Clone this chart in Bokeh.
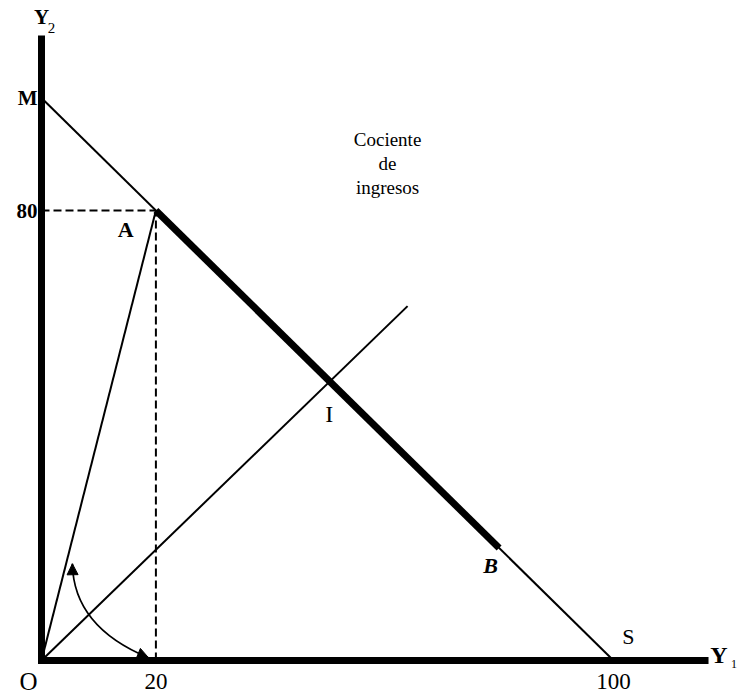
from bokeh.plotting import figure
from bokeh.models import Arrow, NormalHead, Range1d
from bokeh.core.properties import value
from bokeh.embed import file_html
from bokeh.resources import INLINE

# ---- data ----
x_max = 116.0            # extent of the Y1 axis
y_max = 110.5            # extent of the Y2 axis
budget_x = [0, 100]      # line M -> S
budget_y = [100, 0]
segment_x = [20, 80]     # thick segment A -> B
segment_y = [80, 20]
ray_x = [0, 20]          # ray O -> A
ray_y = [0, 80]
equal_x = [0, 64]        # 45-degree line through I
equal_y = [0, 63]
guide_h_x = [0, 20]      # dashed guide at Y2 = 80
guide_h_y = [80, 80]
guide_v_x = [20, 20]     # dashed guide at Y1 = 20
guide_v_y = [0, 80]
arc_x0, arc_y0 = 5.4, 17.2    # curved arrow start (on O-A)
arc_cx, arc_cy = 5.6, 6.0     # control point
arc_x1, arc_y1 = 18.7, 0.5    # curved arrow end (near Y1 = 20)
x_ticks = [20, 100]
x_tick_labels = ["20", "100"]
y_ticks = [80, 100]
y_tick_labels = ["80", "M"]
point_names = ["A", "B", "I", "S"]
point_x = [14.7, 78.5, 50.3, 102.6]
point_y = [76.6, 16.9, 43.9, 4.2]
note_text = "Cociente\nde\ningresos"
note_x, note_y = 60.5, 88.4

SERIF = "Liberation Serif"

# scale: 5.72 px per unit on Y1, 5.625 px per unit on Y2; origin at (41, 660)
p = figure(width=738, height=696, output_backend="svg", toolbar_location=None,
           x_range=Range1d(-41 / 5.72, (738 - 41) / 5.72),
           y_range=Range1d(-36 / 5.625, 660 / 5.625),
           x_axis_location=None, y_axis_location=None,
           min_border=0, background_fill_color="white",
           border_fill_color="white", outline_line_color=None)
p.grid.visible = False

# axes
p.line([0, x_max], [0, 0], line_color="black", line_width=7, line_cap="square")
p.line([0, 0], [0, y_max], line_color="black", line_width=7, line_cap="square")

# lines
p.line(budget_x, budget_y, line_color="black", line_width=2)
p.line(segment_x, segment_y, line_color="black", line_width=7)
p.line(ray_x, ray_y, line_color="black", line_width=2)
p.line(equal_x, equal_y, line_color="black", line_width=2)
p.line(guide_h_x, guide_h_y, line_color="black", line_width=2, line_dash="8 4")
p.line(guide_v_x, guide_v_y, line_color="black", line_width=2, line_dash="8 4")

# curved double arrow
p.quadratic(x0=[arc_x0], y0=[arc_y0], x1=[arc_x1], y1=[arc_y1],
            cx=[arc_cx], cy=[arc_cy], line_color="black", line_width=1.7)
for (xs, ys, xe, ye) in [(arc_cx, arc_cy, arc_x0, arc_y0),
                         (arc_cx, arc_cy, arc_x1, arc_y1)]:
    p.add_layout(Arrow(end=NormalHead(size=11, fill_color="black",
                                      line_color="black", line_width=1),
                       x_start=xs, y_start=ys, x_end=xe, y_end=ye,
                       line_alpha=0))

# tick labels
p.text(x=x_ticks, y=[0] * len(x_ticks), text=x_tick_labels,
       text_font=value(SERIF), text_font_size="23px", text_align="center",
       text_baseline="middle", y_offset=21, text_color="black")
p.text(x=[0] * len(y_ticks), y=y_ticks, text=y_tick_labels,
       text_font=value(SERIF), text_font_size="21px", text_font_style="bold",
       text_align="right", text_baseline="middle", x_offset=-4,
       text_color="black")

# point labels
styles = ["bold", "bold italic", "normal", "normal"]
sizes = ["22px", "22px", "24px", "22px"]
for name, x, y, st, sz in zip(point_names, point_x, point_y, styles, sizes):
    p.text(x=[x], y=[y], text=[name], text_font=value(SERIF),
           text_font_size=sz, text_font_style=st, text_align="center",
           text_baseline="middle", text_color="black")

p.text(x=[note_x], y=[note_y], text=[note_text], text_font=value(SERIF),
       text_font_size="19px", text_align="center", text_baseline="middle",
       text_line_height=1.15, text_color="black")

# origin and axis names
p.text(x=[0], y=[0], text=["O"], text_font=value(SERIF),
       text_font_size="25px", text_align="center", text_baseline="middle",
       x_offset=-13, y_offset=21, text_color="black")
p.text(x=[x_max], y=[0], text=["Y"], text_font=value(SERIF),
       text_font_size="24px", text_font_style="bold", text_align="center",
       text_baseline="middle", x_offset=14, y_offset=-6, text_color="black")
p.text(x=[x_max], y=[0], text=["1"], text_font=value(SERIF),
       text_font_size="12px", text_align="center", text_baseline="middle",
       x_offset=29, y_offset=3, text_color="black")
p.text(x=[0], y=[y_max], text=["Y"], text_font=value(SERIF),
       text_font_size="21px", text_font_style="bold", text_align="center",
       text_baseline="middle", x_offset=0, y_offset=-22, text_color="black")
p.text(x=[0], y=[y_max], text=["2"], text_font=value(SERIF),
       text_font_size="15px", text_align="center", text_baseline="middle",
       x_offset=10, y_offset=-11, text_color="black")

open("out.html", "w").write(file_html(p, INLINE))
